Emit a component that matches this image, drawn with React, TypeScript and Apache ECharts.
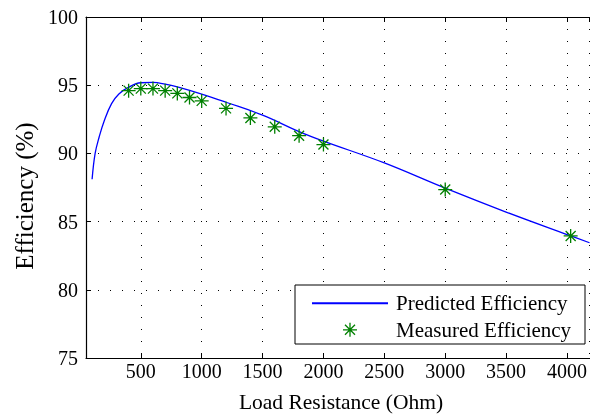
import React, { useEffect, useRef } from 'react';
import * as echarts from 'echarts';

// Predicted efficiency curve
const curveResistance = [100, 125, 158, 200, 260, 320, 390, 500, 600, 700, 800, 1000, 1200, 1500, 1800, 2000, 2500, 3000, 3500, 4000, 4185];
const curveEfficiency = [88.1, 90.0, 91.2, 92.4, 93.65, 94.35, 94.8, 95.18, 95.2, 95.08, 94.88, 94.35, 93.75, 92.8, 91.6, 90.9, 89.3, 87.45, 85.7, 84.05, 83.45];

// Measured efficiency points
const measuredResistance = [400, 500, 600, 700, 800, 900, 1000, 1200, 1400, 1600, 1800, 2000, 3000, 4030];
const measuredEfficiency = [94.6, 94.75, 94.75, 94.6, 94.4, 94.1, 93.85, 93.3, 92.6, 91.95, 91.3, 90.65, 87.35, 83.95];

const seriesNames = ['Predicted Efficiency', 'Measured Efficiency'];
const xTitle = 'Load Resistance (Ohm)';
const yTitle = 'Efficiency (%)';

const FONT = "'Liberation Serif', 'Times New Roman', serif";
const ASTERISK = 'path://M0 7L14 7M7 0L7 14M2 2L12 12M12 2L2 12';

export default function App() {
  const ref = useRef<HTMLDivElement>(null);
  useEffect(() => {
    if (!ref.current) return;
    const chart = echarts.init(ref.current, undefined, { renderer: 'svg' });
    const dotted = { color: '#000', type: [1, 11] as any, width: 1 };
    const xCommon = {
      type: 'value' as const,
      min: 50,
      max: 4185,
      minInterval: 500,
      maxInterval: 500,
    };
    chart.setOption({
      animation: false,
      textStyle: { fontFamily: FONT },
      grid: { left: 86, right: 0, top: 17, bottom: 61, containLabel: false },
      xAxis: [
        {
          ...xCommon,
          position: 'bottom',
          axisLine: { lineStyle: { color: '#000', width: 1.2 } },
          axisTick: { inside: true, length: 5, lineStyle: { color: '#000', width: 1 } },
          axisLabel: {
            color: '#000', fontSize: 20, fontFamily: FONT, margin: 3,
            showMinLabel: false, showMaxLabel: false,
            formatter: (v: number) => String(v),
          },
          splitLine: { show: true, lineStyle: dotted },
        },
        {
          ...xCommon,
          position: 'top',
          axisLine: { lineStyle: { color: '#000', width: 1.2 } },
          axisTick: { inside: true, length: 5, lineStyle: { color: '#000', width: 1 } },
          axisLabel: { show: false },
          splitLine: { show: false },
        },
      ],
      yAxis: {
        type: 'value',
        min: 75,
        max: 100,
        interval: 5,
        axisLine: { show: true, lineStyle: { color: '#000', width: 1.2 } },
        axisTick: { show: true, inside: true, length: 5, lineStyle: { color: '#000', width: 1 } },
        axisLabel: { color: '#000', fontSize: 20, fontFamily: FONT, margin: 8 },
        splitLine: { show: true, lineStyle: dotted },
      },
      graphic: [
        {
          type: 'text',
          x: 341,
          y: 402,
          style: {
            text: xTitle, fill: '#000', font: `21.5px ${FONT}`,
            align: 'center', verticalAlign: 'middle',
          },
        },
        {
          type: 'text',
          x: 24,
          y: 196,
          rotation: Math.PI / 2,
          style: {
            text: yTitle, fill: '#000', font: `25px ${FONT}`,
            align: 'center', verticalAlign: 'middle',
          },
        },
        {
          type: 'rect',
          z: 10,
          shape: { x: 295, y: 285, width: 290, height: 59 },
          style: { fill: '#fff', stroke: '#000', lineWidth: 1 },
        },
      ],
      legend: {
        z: 20,
        left: 311,
        top: 292.7,
        orient: 'vertical',
        padding: 0,
        itemWidth: 76,
        itemHeight: 14,
        itemGap: 5.6,
        textStyle: { color: '#000', fontSize: 21, lineHeight: 20, fontFamily: FONT, padding: [0, 0, 0, 3] },
        data: [
          { name: seriesNames[0], itemStyle: { opacity: 0 } },
          { name: seriesNames[1], itemStyle: { borderWidth: 1.3 } },
        ],
      },
      series: [
        {
          name: seriesNames[0],
          type: 'line',
          xAxisIndex: 0,
          data: curveResistance.map((r, i) => [r, curveEfficiency[i]]),
          showSymbol: false,
          symbol: 'none',
          smooth: 0.4,
          lineStyle: { color: '#0000ff', width: 1.3 },
          itemStyle: { color: '#0000ff' },
          clip: true,
          z: 2,
        },
        {
          name: seriesNames[1],
          type: 'scatter',
          xAxisIndex: 0,
          data: measuredResistance.map((r, i) => [r, measuredEfficiency[i]]),
          symbol: ASTERISK,
          symbolSize: 14,
          itemStyle: { color: '#008000', borderColor: '#008000', borderWidth: 1.3, opacity: 1 },
          z: 3,
        },
      ],
    });
    return () => chart.dispose();
  }, []);
  return <div ref={ref} style={{ position: 'fixed', left: 0, top: 0, width: 590, height: 419 }} />;
}
